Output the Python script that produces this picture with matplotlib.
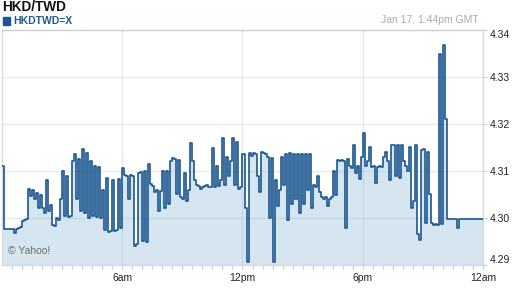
import matplotlib
matplotlib.use("Agg")
import matplotlib.pyplot as plt
import numpy as np

plt.rcParams['font.family'] = ['Liberation Sans', 'DejaVu Sans']

title = "HKD/TWD"
symbol = "HKDTWD=X"
stamp = "Jan 17, 1:44pm GMT"
credit = "\u00a9 Yahoo!"

# one reading every 0.1 hour, from 12am to 12am
step_hours = 0.1
rate = [
    4.3110, 4.2976, 4.2977, 4.2977, 4.2976, 4.2977, 4.2968, 4.2976, 4.2978, 4.2981,
    4.2993, 4.2996, 4.2998, 4.3061, 4.3046, 4.3060, 4.3040, 4.3052, 4.3022, 4.3048,
    4.3020, 4.3010, 4.3080, 4.3015, 4.3028, 4.2985, 4.2982, 4.3000, 4.2996, 4.3040,
    4.3100, 4.3003, 4.3088, 4.3002, 4.3004, 4.3120, 4.3135, 4.3040, 4.3125, 4.3015,
    4.3146, 4.3010, 4.3138, 4.3000, 4.3120, 4.3005, 4.3110, 4.3002, 4.3108, 4.3000,
    4.3060, 4.2975, 4.3085, 4.2970, 4.2972, 4.3080, 4.2972, 4.2975, 4.3082, 4.2978,
    4.3105, 4.3092, 4.3090, 4.3040, 4.3092, 4.3090, 4.2940, 4.2945, 4.3095, 4.3098,
    4.2950, 4.3100, 4.2948, 4.3115, 4.3072, 4.3068, 4.3055, 4.3060, 4.3015, 4.3058,
    4.3100, 4.3020, 4.3100, 4.3030, 4.3120, 4.3128, 4.3125, 4.3050, 4.3122, 4.3045,
    4.3040, 4.3095, 4.3035, 4.3060, 4.3158, 4.3120, 4.3080, 4.3070, 4.3068, 4.3062,
    4.3065, 4.3068, 4.3070, 4.3066, 4.3066, 4.3148, 4.3065, 4.3110, 4.3068, 4.3080,
    4.3169, 4.3070, 4.3130, 4.3090, 4.3120, 4.3169, 4.3070, 4.3162, 4.3062, 4.3066,
    4.3135, 4.3020, 4.2906, 4.3137, 4.3132, 4.3138, 4.3135, 4.3090, 4.3054, 4.3140,
    4.3138, 4.3135, 4.3130, 4.3000, 4.3128, 4.2906, 4.3080, 4.3025, 4.3060, 4.3130,
    4.3070, 4.3135, 4.2995, 4.3138, 4.3030, 4.3135, 4.3040, 4.3135, 4.3010, 4.3135,
    4.3030, 4.3135, 4.3060, 4.3135, 4.3020, 4.3070, 4.3065, 4.3090, 4.3055, 4.3045,
    4.3040, 4.3045, 4.3025, 4.3040, 4.3045, 4.3100, 4.3048, 4.3122, 4.3120, 4.3122,
    4.3120, 4.2979, 4.3125, 4.3110, 4.3105, 4.3155, 4.3095, 4.3110, 4.3083, 4.3130,
    4.3180, 4.3110, 4.3120, 4.3150, 4.3108, 4.3110, 4.3075, 4.3108, 4.3110, 4.3108,
    4.3130, 4.3140, 4.3120, 4.3080, 4.3155, 4.3155, 4.3090, 4.3155, 4.3085, 4.3155,
    4.3120, 4.3110, 4.3100, 4.3150, 4.3020, 4.3035, 4.3155, 4.2966, 4.2953, 4.3145,
    4.3146, 4.2990, 4.3140, 4.3050, 4.2990, 4.2985, 4.2986, 4.2984, 4.3348, 4.2988,
    4.3368, 4.3210, 4.2997, 4.2997, 4.2997, 4.2997, 4.2997, 4.2978, 4.2997, 4.2997,
    4.2997, 4.2997, 4.2997, 4.2997, 4.2997, 4.2997, 4.2997, 4.2997, 4.2997, 4.2997,
    4.2997,
]

x_ticks = [6, 12, 18, 24]
x_labels = ["6am", "12pm", "6pm", "12am"]
y_ticks = [4.29, 4.30, 4.31, 4.32, 4.33, 4.34]

line_color = "#1b5690"
fill_color = "#d6e6f1"
frame_color = "#d8dcdf"

hours = np.arange(len(rate)) * step_hours
vals = np.array(rate)

fig = plt.figure(figsize=(5.12, 2.88), dpi=100)
ax = fig.add_axes([2 / 512, 1 - 265 / 288, 481 / 512, 235.5 / 288])

ymin, ymax = y_ticks[0], y_ticks[-1]
ax.fill_between(hours, vals, ymin, step="post", color=fill_color, lw=0, zorder=1)
ax.plot(hours, vals, drawstyle="steps-post", color=line_color, lw=1.2, zorder=3)

ax.set_xlim(0, 24)
ax.set_ylim(ymin, ymax)

ax.set_xticks(x_ticks)
ax.set_xticklabels(x_labels)
ax.set_xticks(np.arange(0.5, 24, 0.5), minor=True)
ax.yaxis.tick_right()
ax.set_yticks(y_ticks)
ax.set_yticklabels([f"{v:.2f}" for v in y_ticks])

ylabs = ax.get_yticklabels()
ylabs[0].set_va("bottom")
ylabs[-1].set_va("top")

ax.tick_params(axis="x", which="both", length=3, width=0.8, color="#cccccc",
               labelsize=7.5, labelcolor="#222222", pad=3)
ax.tick_params(axis="y", which="both", length=3, width=0.8, color="#cccccc",
               labelsize=7.5, labelcolor="#222222", pad=2)

ax.grid(True, which="major", color="#7f9cbd", alpha=0.2, lw=1)
ax.set_axisbelow(False)
for gl in ax.get_xgridlines() + ax.get_ygridlines():
    gl.set_zorder(2)

for s in ax.spines.values():
    s.set_color(frame_color)
    s.set_linewidth(1)

ax.text(0.012, 0.06, credit, transform=ax.transAxes, fontsize=7.5,
        color="#6d6d6d", ha="left", va="center", zorder=4)

fig.text(2 / 512, 1 - 7 / 288, title, fontsize=9.8, fontweight="bold",
         color="#111111", ha="left", va="center")
fig.patches.append(plt.Rectangle((3 / 512, 1 - 24.5 / 288), 7 / 512, 7 / 288,
                                 transform=fig.transFigure, color=line_color))
fig.text(13 / 512, 1 - 21 / 288, symbol, fontsize=7.5, fontweight="bold",
         color="#1f5a96", ha="left", va="center")
fig.text(479 / 512, 1 - 20 / 288, stamp, fontsize=7.5,
         color="#ababab", ha="right", va="center")

fig.savefig("out.png", dpi=100)
